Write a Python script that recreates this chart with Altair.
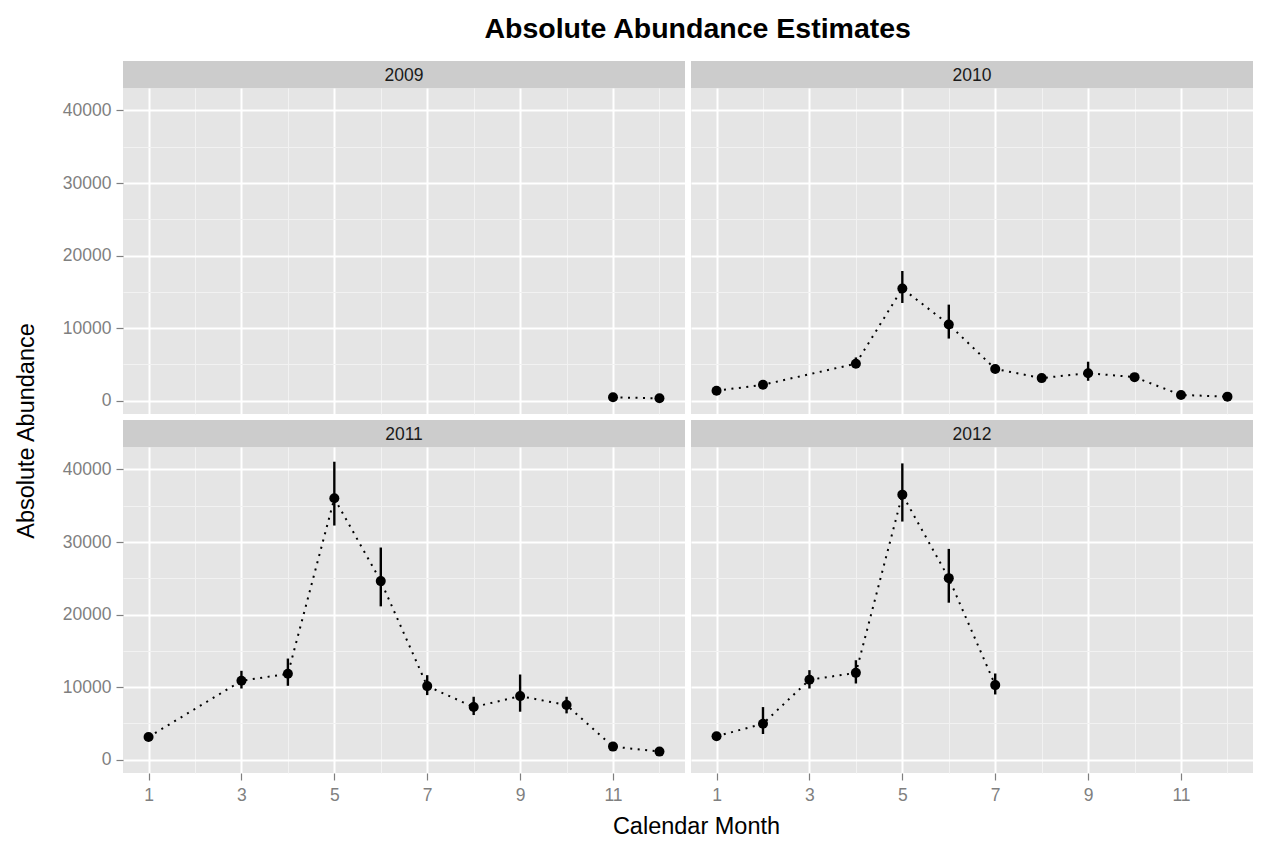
import altair as alt
import pandas as pd

FONT = "Liberation Sans"

# ---- data ----
months_2009 = [11, 12]
est_2009 = [450, 310]
lo_2009 = [350, 230]
hi_2009 = [560, 400]

months_2010 = [1, 2, 4, 5, 6, 7, 8, 9, 10, 11, 12]
est_2010 = [1350, 2180, 5090, 15450, 10500, 4365, 3100, 3780, 3230, 780, 545]
lo_2010 = [1100, 1800, 4500, 13460, 8550, 3900, 2750, 2730, 2850, 620, 420]
hi_2010 = [1600, 2700, 5950, 17870, 13230, 4900, 3450, 5360, 3650, 950, 680]

months_2011 = [1, 3, 4, 5, 6, 7, 8, 9, 10, 11, 12]
est_2011 = [3120, 10860, 11825, 36030, 24610, 10130, 7240, 8750, 7520, 1790, 1100]
lo_2011 = [2800, 9800, 10175, 32270, 21130, 8890, 6140, 6600, 6370, 1550, 900]
hi_2011 = [3450, 12240, 13930, 41070, 29240, 11640, 8660, 11730, 8660, 2050, 1300]

months_2012 = [1, 2, 3, 4, 5, 6, 7]
est_2012 = [3210, 4950, 11000, 11960, 36530, 25020, 10270]
lo_2012 = [2900, 3530, 9800, 10490, 32820, 21630, 8980]
hi_2012 = [3550, 7240, 12330, 13700, 40840, 29050, 11870]

years = ["2009", "2010", "2011", "2012"]
x_ticks = list(range(1, 13))
y_ticks = list(range(0, 40001, 5000))
x_domain = [0.45, 12.55]
y_domain = [-1850, 43100]

series = {
    "2009": (months_2009, est_2009, lo_2009, hi_2009),
    "2010": (months_2010, est_2010, lo_2010, hi_2010),
    "2011": (months_2011, est_2011, lo_2011, hi_2011),
    "2012": (months_2012, est_2012, lo_2012, hi_2012),
}

W = 562
H = 326
STRIP = 27
GAP = 6

grid_major = "#FFFFFF"
grid_minor = "#F2F2F2"


def x_axis(labels, title):
    kw = dict(
        values=x_ticks,
        gridColor={"condition": {"test": "datum.value % 2 == 0", "value": grid_minor}, "value": grid_major},
        gridWidth={"condition": {"test": "datum.value % 2 == 0", "value": 1}, "value": 2},
    )
    if labels:
        kw.update(
            labelExpr="datum.value % 2 == 1 ? datum.label : ''",
            tickOpacity={"condition": {"test": "datum.value % 2 == 0", "value": 0}, "value": 1},
        )
    else:
        kw.update(labels=False, ticks=False)
    if title:
        kw.update(title="Calendar Month", titleX=(2 * W + GAP) / 2 + 8)
    else:
        kw.update(title=None)
    return alt.Axis(**kw)


def y_axis(labels, title):
    kw = dict(
        values=y_ticks,
        gridColor={"condition": {"test": "datum.value % 10000 != 0", "value": grid_minor}, "value": grid_major},
        gridWidth={"condition": {"test": "datum.value % 10000 != 0", "value": 1}, "value": 2},
    )
    if labels:
        kw.update(
            format="d",
            labelExpr="datum.value % 10000 == 0 ? datum.label : ''",
            tickOpacity={"condition": {"test": "datum.value % 10000 != 0", "value": 0}, "value": 1},
        )
    else:
        kw.update(labels=False, ticks=False)
    if title:
        kw.update(title="Absolute Abundance", titleY=(2 * H + GAP + STRIP) / 2)
    else:
        kw.update(title=None)
    return alt.Axis(**kw)


def panel(yr, show_x, show_y, x_title, y_title):
    m, e, l, h = series[yr]
    data = pd.DataFrame({"month": m, "est": e, "lo": l, "hi": h})
    xs = alt.X("month:Q", scale=alt.Scale(domain=x_domain, nice=False, zero=False), axis=x_axis(show_x, x_title))
    ys = alt.Y("est:Q", scale=alt.Scale(domain=y_domain, nice=False, zero=False), axis=y_axis(show_y, y_title))
    ylo = alt.Y("lo:Q", scale=alt.Scale(domain=y_domain, nice=False, zero=False))
    base = alt.Chart(data)
    line = base.mark_line(color="#000000", strokeDash=[2, 5.5], strokeWidth=2).encode(x=xs, y=ys)
    bars = base.mark_rule(color="#000000", strokeWidth=2.4).encode(x=xs, y=ylo, y2="hi:Q")
    points = base.mark_point(filled=True, color="#000000", size=100, opacity=1).encode(x=xs, y=ys)
    sdata = alt.Chart(pd.DataFrame({"year": [yr]}))
    strip = sdata.mark_rect(color="#CCCCCC").encode(
        x=alt.value(0), x2=alt.value(W), y=alt.value(-STRIP), y2=alt.value(0)
    )
    strip_text = sdata.mark_text(
        font=FONT, fontSize=17.5, color="#1A1A1A", baseline="middle", align="center"
    ).encode(text="year:N", x=alt.value(W / 2), y=alt.value(-STRIP / 2 + 1))
    return alt.layer(line, bars, points, strip, strip_text).properties(width=W, height=H)


p09 = panel("2009", False, True, False, True)
p10 = panel("2010", False, False, False, False)
p11 = panel("2011", True, True, True, False)
p12 = panel("2012", True, False, False, False)

chart = alt.concat(
    p09, p10, p11, p12, columns=2,
    spacing={"row": GAP + STRIP, "column": GAP},
    bounds="flush",
).properties(
    title=alt.TitleParams(
        "Absolute Abundance Estimates", fontSize=28.5, fontWeight="bold", font=FONT,
        color="#000000", anchor="middle", frame="bounds", offset=18, dx=64,
    ),
    padding={"left": 6, "top": 6, "right": 0, "bottom": 0},
).configure_view(
    fill="#E5E5E5", stroke=None
).configure_axis(
    domain=False,
    labelFont=FONT, labelFontSize=17.5, labelColor="#7F7F7F",
    titleFont=FONT, titleFontSize=23.5, titleColor="#000000", titleFontWeight="normal",
    tickColor="#7F7F7F", tickSize=7, tickWidth=1.2,
    labelPadding=5,
).configure_axisY(
    titlePadding=24,
).configure_axisX(
    titlePadding=11,
    labelPadding=6,
)

chart.save("out.html", embed_options={"renderer": "svg", "actions": False})
